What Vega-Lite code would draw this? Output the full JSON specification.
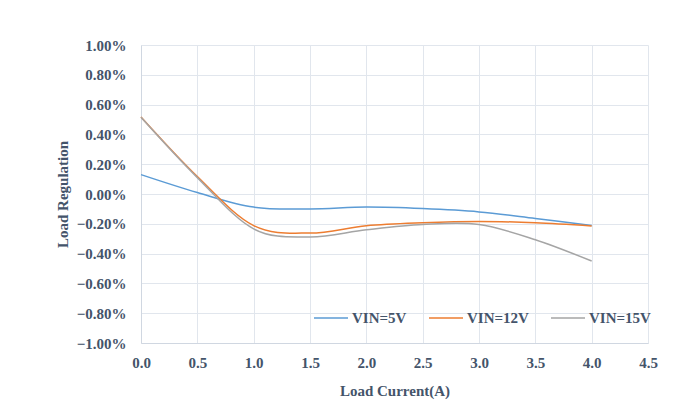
{
  "$schema": "https://vega.github.io/schema/vega-lite/v6.json",
  "width": 507,
  "height": 298,
  "autosize": "none",
  "padding": {"left": 141, "top": 45, "right": 41, "bottom": 74},
  "background": "white",
  "config": {"view": {"stroke": null}, "font": "Liberation Serif"},
  "data": {
    "values": [
      {"current": 0.0, "reg": 0.0013, "series": "VIN=5V"},
      {"current": 0.5, "reg": 0.0001, "series": "VIN=5V"},
      {"current": 1.0, "reg": -0.00088, "series": "VIN=5V"},
      {"current": 1.5, "reg": -0.0010, "series": "VIN=5V"},
      {"current": 2.0, "reg": -0.00088, "series": "VIN=5V"},
      {"current": 2.5, "reg": -0.00098, "series": "VIN=5V"},
      {"current": 3.0, "reg": -0.0012, "series": "VIN=5V"},
      {"current": 3.5, "reg": -0.00164, "series": "VIN=5V"},
      {"current": 4.0, "reg": -0.00211, "series": "VIN=5V"},
      {"current": 0.0, "reg": 0.00517, "series": "VIN=12V"},
      {"current": 0.5, "reg": 0.00117, "series": "VIN=12V"},
      {"current": 1.0, "reg": -0.00212, "series": "VIN=12V"},
      {"current": 1.5, "reg": -0.00262, "series": "VIN=12V"},
      {"current": 2.0, "reg": -0.00213, "series": "VIN=12V"},
      {"current": 2.5, "reg": -0.00193, "series": "VIN=12V"},
      {"current": 3.0, "reg": -0.00184, "series": "VIN=12V"},
      {"current": 3.5, "reg": -0.00193, "series": "VIN=12V"},
      {"current": 4.0, "reg": -0.00214, "series": "VIN=12V"},
      {"current": 0.0, "reg": 0.00515, "series": "VIN=15V"},
      {"current": 0.5, "reg": 0.0011, "series": "VIN=15V"},
      {"current": 1.0, "reg": -0.00234, "series": "VIN=15V"},
      {"current": 1.5, "reg": -0.00288, "series": "VIN=15V"},
      {"current": 2.0, "reg": -0.0024, "series": "VIN=15V"},
      {"current": 2.5, "reg": -0.00205, "series": "VIN=15V"},
      {"current": 3.0, "reg": -0.00205, "series": "VIN=15V"},
      {"current": 3.5, "reg": -0.00307, "series": "VIN=15V"},
      {"current": 4.0, "reg": -0.0045, "series": "VIN=15V"}
    ]
  },
  "mark": {"type": "line", "interpolate": "cardinal", "strokeWidth": 1.5},
  "encoding": {
    "x": {
      "field": "current",
      "type": "quantitative",
      "scale": {"domain": [0, 4.5], "nice": false, "zero": false},
      "axis": {
        "title": "Load Current(A)",
        "values": [0, 0.5, 1, 1.5, 2, 2.5, 3, 3.5, 4, 4.5],
        "format": ".1f",
        "grid": true,
        "gridColor": "#e1e6ed",
        "gridWidth": 1,
        "domainColor": "#d0d7e1",
        "ticks": false,
        "labelFlush": false,
        "labelPadding": 12,
        "labelFont": "Liberation Serif",
        "labelFontSize": 15,
        "labelFontWeight": "bold",
        "labelColor": "#44546a",
        "titleFont": "Liberation Serif",
        "titleFontSize": 15,
        "titleFontWeight": "bold",
        "titleColor": "#44546a",
        "titlePadding": 13
      }
    },
    "y": {
      "field": "reg",
      "type": "quantitative",
      "scale": {"domain": [-0.01, 0.01], "nice": false, "zero": false},
      "axis": {
        "title": "Load Regulation",
        "values": [-0.01, -0.008, -0.006, -0.004, -0.002, 0, 0.002, 0.004, 0.006, 0.008, 0.01],
        "format": ".2%",
        "grid": true,
        "gridColor": "#e1e6ed",
        "gridWidth": 1,
        "domainColor": "#d0d7e1",
        "ticks": false,
        "labelFlush": false,
        "labelPadding": 15,
        "labelFont": "Liberation Serif",
        "labelFontSize": 15,
        "labelFontWeight": "bold",
        "labelColor": "#44546a",
        "titleFont": "Liberation Serif",
        "titleFontSize": 15,
        "titleFontWeight": "bold",
        "titleColor": "#44546a",
        "titlePadding": 6
      }
    },
    "color": {
      "field": "series",
      "type": "nominal",
      "scale": {"domain": ["VIN=5V", "VIN=12V", "VIN=15V"], "range": ["#5b9bd5", "#ed7d31", "#a5a5a5"]},
      "legend": {
        "title": null,
        "orient": "none",
        "legendX": 172,
        "legendY": 255,
        "direction": "horizontal",
        "symbolType": "stroke",
        "symbolSize": 1156,
        "symbolStrokeWidth": 1.5,
        "labelFont": "Liberation Serif",
        "labelFontSize": 15,
        "labelFontWeight": "bold",
        "labelColor": "#44546a",
        "labelOffset": 3,
        "columnPadding": 19
      }
    }
  }
}
